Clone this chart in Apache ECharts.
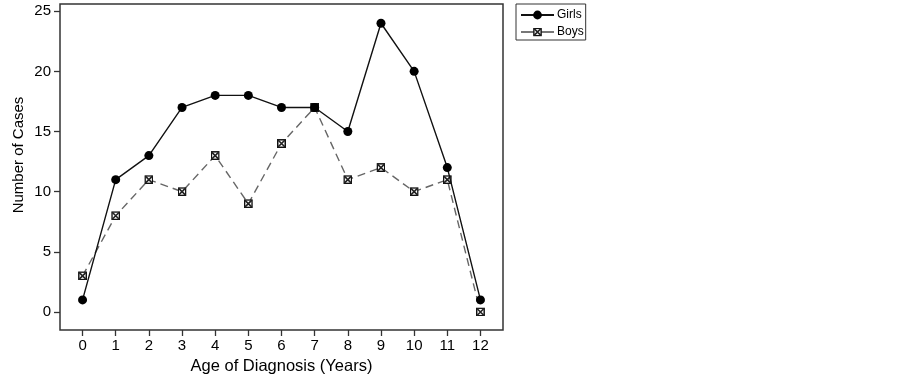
<!DOCTYPE html>
<html>
<head>
<meta charset="utf-8">
<script src="https://cdn.jsdelivr.net/npm/echarts@6/dist/echarts.min.js"></script>
<style>html,body{margin:0;padding:0;background:#fff}#c{width:903px;height:376px}</style>
</head>
<body>
<div id="c"></div>
<script>
const ages = [0,1,2,3,4,5,6,7,8,9,10,11,12];
const girls = [1,11,13,17,18,18,17,17,15,24,20,12,1];
const boys = [3,8,11,10,13,9,14,17,11,12,10,11,0];
const yTicks = [0,5,10,15,20,25];

const boySvg = "<svg xmlns='http://www.w3.org/2000/svg' width='9' height='9'><rect x='0.75' y='0.75' width='7.5' height='7.5' fill='white' stroke='#111' stroke-width='1.5'/><path d='M1 1L8 8M8 1L1 8' stroke='#222' stroke-width='1.6'/></svg>";
const boySym = 'image://data:image/svg+xml;charset=utf-8,' + encodeURIComponent(boySvg);

const chart = echarts.init(document.getElementById('c'), null, {renderer:'canvas'});
const font = "'Liberation Sans', Arial, sans-serif";
chart.setOption({
  animation:false,
  textStyle:{fontFamily:font},
  grid:{left:60,right:400,top:4,bottom:46,show:true,borderColor:'#333',borderWidth:1.5,containLabel:false,outerBoundsMode:'none'},
  legend:{
    orient:'vertical',left:516,top:4,
    borderColor:'#333',borderWidth:1,padding:[5,2,2,4],
    itemWidth:33,itemHeight:11,itemGap:5,
    textStyle:{fontSize:12,color:'#000',fontFamily:font,padding:[0,0,0,-2]},
    data:[{name:'Girls'},{name:'Boys',lineStyle:{type:'solid',color:'#777'}}]
  },
  xAxis:{
    type:'value',min:-0.68,max:12.68,
    axisLine:{show:false,onZero:false},
    splitLine:{show:false},
    axisTick:{show:true,customValues:ages,length:6,lineStyle:{color:'#333',width:1.3}},
    axisLabel:{customValues:ages,fontSize:15,color:'#000',margin:8,fontFamily:font},
    name:'Age of Diagnosis (Years)',nameLocation:'middle',nameGap:28,
    nameTextStyle:{fontSize:16.5,color:'#000',fontFamily:font}
  },
  yAxis:{
    type:'value',min:-1.5,max:25.6,
    axisLine:{show:false,onZero:false},
    splitLine:{show:false},
    axisTick:{show:true,customValues:yTicks,length:6,lineStyle:{color:'#333',width:1.3}},
    axisLabel:{customValues:yTicks,fontSize:15,color:'#000',margin:9,fontFamily:font},
    name:'Number of Cases',nameLocation:'middle',nameGap:34,
    nameTextStyle:{fontSize:15,color:'#000',fontFamily:font,padding:[0,0,0,24]}
  },
  series:[
    {name:'Girls',type:'line',data:ages.map((a,i)=>[a,girls[i]]),
     symbol:'circle',symbolSize:9,
     itemStyle:{color:'#000'},lineStyle:{color:'#111',width:1.4},z:3},
    {name:'Boys',type:'line',data:ages.map((a,i)=>[a,boys[i]]),
     symbol:boySym,symbolSize:9,
     itemStyle:{color:'#555'},lineStyle:{color:'#666',width:1.4,type:[8,5]},z:2}
  ]
});
</script>
</body>
</html>
